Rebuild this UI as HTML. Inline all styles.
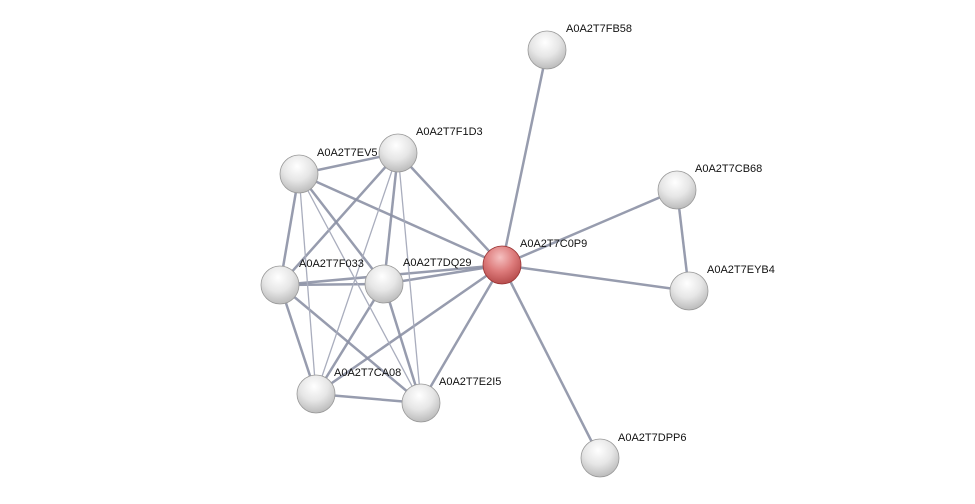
<!DOCTYPE html>
<html><head><meta charset="utf-8"><style>body{margin:0;background:#fff}svg{display:block}</style></head><body>
<svg width="975" height="504" xmlns="http://www.w3.org/2000/svg" font-family="Liberation Sans, sans-serif" font-size="11">
<defs>
<radialGradient id="g" cx="0.45" cy="0.3" r="0.75"><stop offset="0" stop-color="#ffffff"/><stop offset="0.5" stop-color="#e6e6e6"/><stop offset="1" stop-color="#b5b5b5"/></radialGradient>
<radialGradient id="r" cx="0.45" cy="0.3" r="0.75"><stop offset="0" stop-color="#f5c0c0"/><stop offset="0.5" stop-color="#dd7b7b"/><stop offset="1" stop-color="#b04545"/></radialGradient>
</defs>
<g stroke="#8c91a5" stroke-width="2.5" stroke-opacity="0.9">
<line x1="299" y1="174" x2="398" y2="153"/><line x1="299" y1="174" x2="502" y2="265"/><line x1="299" y1="174" x2="280" y2="285"/><line x1="299" y1="174" x2="384" y2="284"/>
<line x1="398" y1="153" x2="502" y2="265"/><line x1="398" y1="153" x2="280" y2="285"/><line x1="398" y1="153" x2="384" y2="284"/>
<line x1="280" y1="285" x2="384" y2="284"/><line x1="280" y1="285" x2="502" y2="265"/><line x1="280" y1="285" x2="316" y2="394"/><line x1="280" y1="285" x2="421" y2="403"/>
<line x1="384" y1="284" x2="502" y2="265"/><line x1="384" y1="284" x2="316" y2="394"/><line x1="384" y1="284" x2="421" y2="403"/>
<line x1="316" y1="394" x2="502" y2="265"/><line x1="316" y1="394" x2="421" y2="403"/><line x1="421" y1="403" x2="502" y2="265"/>
<line x1="502" y1="265" x2="547" y2="50"/><line x1="502" y1="265" x2="677" y2="190"/><line x1="502" y1="265" x2="689" y2="291"/><line x1="502" y1="265" x2="600" y2="458"/><line x1="677" y1="190" x2="689" y2="291"/>
</g>
<g stroke="#a9adbd" stroke-width="1.3">
<line x1="299" y1="174" x2="316" y2="394"/><line x1="299" y1="174" x2="421" y2="403"/><line x1="398" y1="153" x2="316" y2="394"/><line x1="398" y1="153" x2="421" y2="403"/>
</g>
<g fill="#111">
<text x="566" y="32">A0A2T7FB58</text><text x="416" y="135">A0A2T7F1D3</text><text x="317" y="156">A0A2T7EV5</text>
<text x="695" y="172">A0A2T7CB68</text><text x="520" y="247">A0A2T7C0P9</text><text x="299" y="267">A0A2T7F033</text>
<text x="403" y="266">A0A2T7DQ29</text><text x="707" y="273">A0A2T7EYB4</text><text x="334" y="376">A0A2T7CA08</text>
<text x="439" y="385">A0A2T7E2I5</text><text x="618" y="441">A0A2T7DPP6</text>
</g>
<g stroke="#999" stroke-width="0.8" fill="url(#g)">
<circle cx="547" cy="50" r="19"/><circle cx="398" cy="153" r="19"/><circle cx="299" cy="174" r="19"/><circle cx="677" cy="190" r="19"/>
<circle cx="280" cy="285" r="19"/><circle cx="384" cy="284" r="19"/><circle cx="689" cy="291" r="19"/><circle cx="316" cy="394" r="19"/>
<circle cx="421" cy="403" r="19"/><circle cx="600" cy="458" r="19"/>
<circle cx="502" cy="265" r="19" fill="url(#r)" stroke="#993333"/>
</g>
</svg>
</body></html>
